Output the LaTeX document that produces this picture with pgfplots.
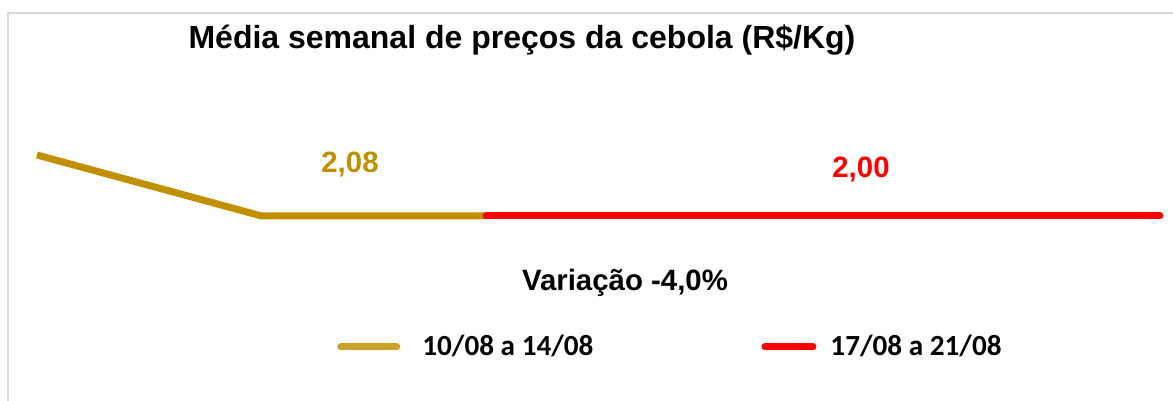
\documentclass[border=0pt]{standalone}
\usepackage{pgfplots}
\pgfplotsset{compat=1.18}
\usepackage{fontspec}
\setmainfont{Liberation Sans}
\newfontfamily\calibri{Carlito}

\definecolor{ouro}{RGB}{192,144,0}
\definecolor{ourolegenda}{RGB}{201,162,39}
\definecolor{vermelho}{RGB}{255,0,0}
\definecolor{moldura}{RGB}{217,217,217}

\begin{document}
\begin{tikzpicture}
\useasboundingbox (0,0) rectangle (586.5pt,200.5pt);
% moldura (so topo e lado esquerdo aparecem)
\draw[moldura, line width=0.8pt] (4pt,0pt) -- (4pt,194pt) -- (586.5pt,194pt);

\begin{axis}[
    at={(18.5pt,77.25pt)}, anchor=south west,
    scale only axis,
    width=561.5pt, height=76.25pt,
    xmin=0, xmax=5, ymin=1.8, ymax=2.8,
    axis lines=none,
    clip=false,
    legend style={draw=none, fill=none, at={(0.2671,-0.659)}, anchor=west,
        font=\calibri\bfseries\fontsize{14.6}{16}\selectfont,
        legend columns=2, inner sep=0pt,
        /tikz/every odd column/.append style={column sep=5pt},
        /tikz/every even column/.append style={column sep=82pt}},
    legend cell align=left,
]
% 10/08 a 14/08
\addplot[ouro, line width=3.5pt, line join=miter,
    legend image code/.code={\draw[ourolegenda, line width=3.5pt, line cap=round] (0pt,0pt) -- (28pt,0pt);}]
    coordinates {(0,2.40) (1,2.00) (2,2.00)};
\addlegendentry{\hspace{4pt}10/08 a 14/08}
% 17/08 a 21/08
\addplot[vermelho, line width=3.5pt, line cap=round,
    legend image code/.code={\draw[vermelho, line width=3.5pt, line cap=round] (0pt,0pt) -- (24pt,0pt);}]
    coordinates {(2,2.00) (3,2.00) (4,2.00) (5,2.00)};
\addlegendentry{17/08 a 21/08}
\end{axis}

\node[font=\bfseries\fontsize{16}{19}\selectfont] at (261pt,180.5pt) {Média semanal de preços da cebola (R\$/Kg)};
\node[font=\bfseries\fontsize{14.7}{17}\selectfont, text=ouro] at (175pt,118pt) {2,08};
\node[font=\bfseries\fontsize{14.7}{17}\selectfont, text=vermelho] at (430.5pt,115.5pt) {2,00};
\node[font=\bfseries\fontsize{14.7}{17}\selectfont] at (312.5pt,59pt) {Variação -4,0\%};
\end{tikzpicture}
\end{document}
